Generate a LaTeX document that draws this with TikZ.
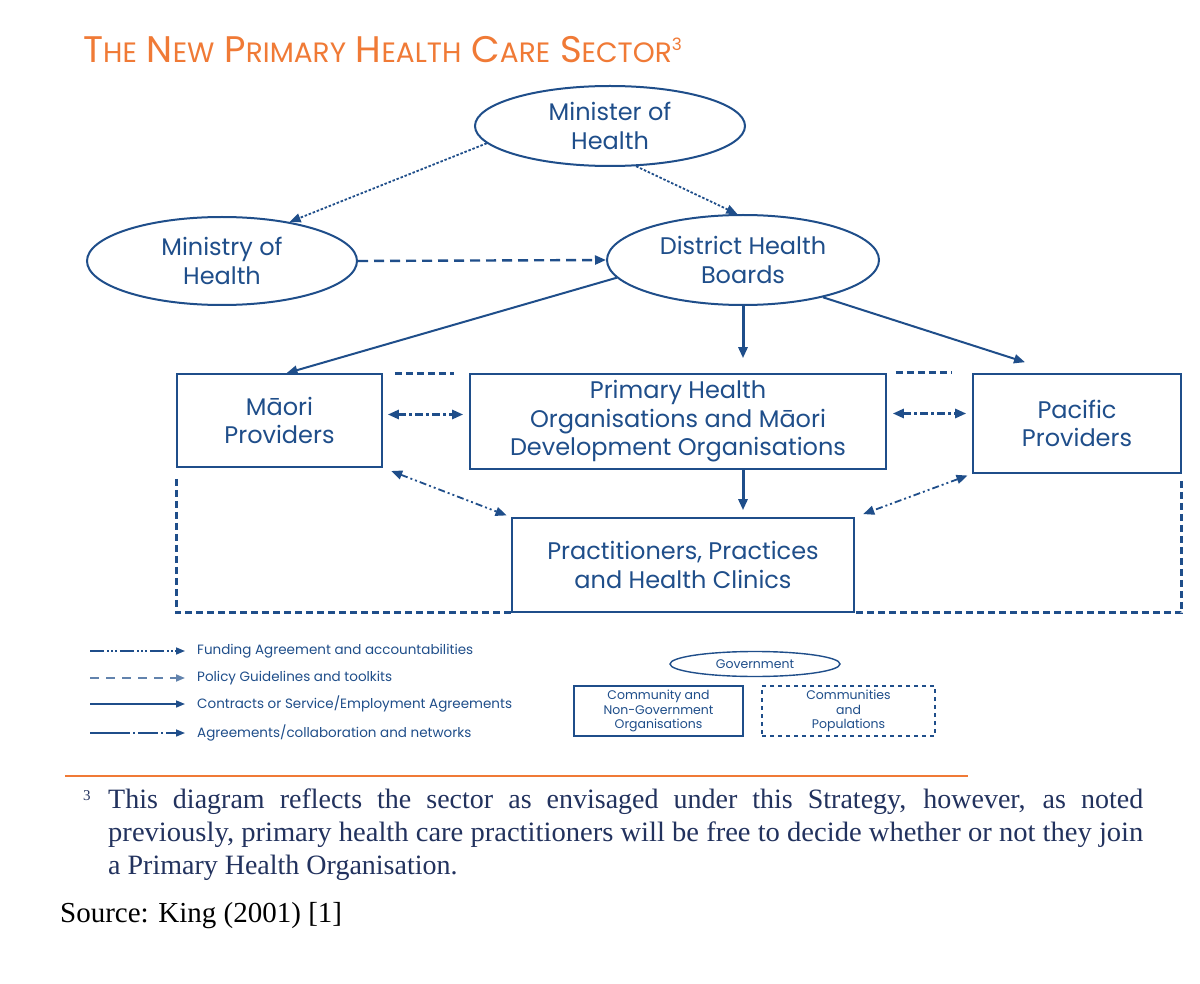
\documentclass[tikz,border=0pt]{standalone}
\usepackage{fontspec}
\setmainfont{Liberation Serif}
\newfontfamily\boxfont{Poppins}
\usetikzlibrary{shapes.geometric,arrows.meta,calc}
\definecolor{navy}{HTML}{1F4E8A}
\definecolor{inknavy}{HTML}{22325E}
\definecolor{orng}{HTML}{F07A36}
\newcommand\SCs[1]{{\fontsize{28}{28}\selectfont #1}}
\tikzset{
  every node/.style={text=navy},
  ell/.style={draw=navy, line width=2pt, ellipse, inner sep=0pt, align=center, font=\boxfont\fontsize{24}{29}\selectfont},
  bx/.style={draw=navy, line width=1.6pt, rectangle, inner sep=0pt, align=center, font=\boxfont\fontsize{24}{28.5}\selectfont},
  tip/.style={-{Triangle[length=11pt,width=9pt]}},
  btip/.style={{Triangle[length=11pt,width=9pt]}-{Triangle[length=11pt,width=9pt]}},
  funding/.style={draw=navy, line width=1.8pt, dash pattern=on 2.5pt off 1.8pt, tip},
  policy/.style={draw=navy, line width=2.4pt, dash pattern=on 10pt off 6pt, tip},
  contract/.style={draw=navy, line width=2pt, tip},
  thickc/.style={draw=navy, line width=3pt, tip},
  agree/.style={draw=navy, line width=1.8pt, dash pattern=on 7pt off 3pt on 2pt off 3pt on 2pt off 3pt, btip},
  agreeb/.style={draw=navy, line width=2.6pt, dash pattern=on 8pt off 3pt on 3pt off 3pt, btip},
  border/.style={draw=navy, line width=3pt, dash pattern=on 7pt off 4pt},
  legtxt/.style={anchor=west, inner sep=0pt, font=\boxfont\fontsize{13.5}{15}\selectfont},
  smallfont/.style={font=\boxfont\fontsize{12.5}{14.2}\selectfont},
  ltip/.style={-{Triangle[length=9pt,width=7pt]}},
}
\begin{document}
\begin{tikzpicture}[x=1pt,y=-1pt]
\useasboundingbox[fill=white] (0,0) rectangle (1200,984);
% title
\node[anchor=west, inner sep=0pt, text=orng, font=\boxfont\fontsize{37}{37}\selectfont] (title) at (83,50)
  {T\SCs{HE} N\SCs{EW} P\SCs{RIMARY} H\SCs{EALTH} C\SCs{ARE} S\SCs{ECTOR}\raisebox{0.6ex}{\fontsize{17}{17}\selectfont 3}};
% ellipses
\node[ell, minimum width=270pt, minimum height=80pt] (min) at (610,126) {Minister of\\Health};
\node[ell, minimum width=270pt, minimum height=88pt] (mtry) at (222,261) {Ministry of\\Health};
\node[ell, minimum width=272pt, minimum height=90pt] (dhb) at (743,260) {District Health\\Boards};
% boxes
\node[bx, minimum width=205pt, minimum height=93pt] (maori) at (279.5,420.5) {M\={a}ori\\Providers};
\node[bx, minimum width=416pt, minimum height=95pt] (pho) at (678,421.5) {Primary Health\\Organisations and M\={a}ori\\Development Organisations};
\node[bx, minimum width=208pt, minimum height=99pt] (pac) at (1077,423.5) {Pacific\\Providers};
\node[bx, minimum width=342pt, minimum height=94pt] (prac) at (683,565) {Practitioners, Practices\\and Health Clinics};
% connectors
\draw[funding] (min.188) -- (mtry.30);
\draw[funding] (min.-57) -- (dhb.97);
\draw[policy] (mtry.east) -- (dhb.west);
\draw[contract] (dhb.188) -- ([xshift=7pt]maori.north);
\draw[contract] (dhb.-25) -- ([xshift=-52pt,yshift=11pt]pac.north);
\draw[thickc, shorten >=15pt] (dhb.south) -- (dhb.south |- pho.north);
\draw[thickc, shorten >=7pt] (dhb.south |- pho.south) -- (dhb.south |- prac.north);
\draw[agreeb, shorten <=5pt, shorten >=6pt] ([yshift=6pt]maori.east) -- ([yshift=6pt]maori.east -| pho.west);
\draw[agreeb, shorten <=6pt, shorten >=6pt] ([yshift=8pt]pho.east) -- ([yshift=8pt]pho.east -| pac.west);
\draw[agree, shorten <=9pt, shorten >=5pt] (maori.south east) -- (prac.north west);
\draw[agree, shorten <=5pt, shorten >=9pt] (pac.south west) -- (prac.north east);
\draw[border] ([xshift=12pt]maori.north east) -- ([xshift=-15pt]pho.north west);
\draw[border] ([xshift=9pt,yshift=1pt]pho.north east) -- ([xshift=-20pt,yshift=1pt]pac.north west);
\draw[border] ([yshift=-11pt]maori.south west) |- (prac.south west);
\draw[border] ([yshift=-7pt]pac.south east) |- (prac.south east);
% legend
\coordinate (l1) at (90,651);
\coordinate (l2) at (90,678);
\coordinate (l3) at (90,704);
\coordinate (l4) at (90,733);
\node[legtxt] (t1) at (197,651) {Funding Agreement and accountabilities};
\node[legtxt] (t2) at (197,678) {Policy Guidelines and toolkits};
\node[legtxt] (t3) at (197,704) {Contracts or Service/Employment Agreements};
\node[legtxt] (t4) at (197,733) {Agreements/collaboration and networks};
\draw[navy, line width=1.6pt, dash pattern=on 14pt off 3pt on 2pt off 2pt on 2pt off 2pt on 2pt off 3pt, ltip, shorten >=12pt] (l1) -- (t1.west);
\draw[navy!70, line width=1.8pt, dash pattern=on 9pt off 7pt, ltip, shorten >=12pt] (l2) -- (t2.west);
\draw[navy, line width=1.6pt, ltip, shorten >=12pt] (l3) -- (t3.west);
\draw[navy, line width=1.6pt, dash pattern=on 40pt off 3pt on 2pt off 3pt on 20pt off 3pt on 2pt off 3pt, ltip, shorten >=12pt] (l4) -- (t4.west);
\node[ell, line width=1.4pt, minimum width=170pt, minimum height=25pt, smallfont] (gov) at (755,664) {Government};
\node[bx, line width=1.4pt, minimum width=169pt, minimum height=50pt, smallfont] (cngo) at (658.5,711) {Community and\\Non-Government\\Organisations};
\node[bx, line width=1.2pt, dash pattern=on 4pt off 4pt, minimum width=173pt, minimum height=50pt, smallfont] (comm) at (848.5,711) {Communities\\and\\Populations};
% footnote
\draw[orng, line width=1.2pt] (65,776) -- (968,776);
\node[anchor=base west, inner sep=0pt, text=inknavy, font=\fontsize{15}{15}\selectfont] (fnm) at (83,800) {3};
\node[anchor=base west, inner sep=0pt, text=inknavy, font=\fontsize{28}{28}\selectfont] (fn1) at (108,808) {\makebox[1035pt][s]{This diagram reflects the sector as envisaged under this Strategy, however, as noted}};
\node[anchor=base west, inner sep=0pt, text=inknavy, font=\fontsize{28}{28}\selectfont] (fn2) at (108,841) {\resizebox{1035pt}{\height}{previously, primary health care practitioners will be free to decide whether or not they join}};
\node[anchor=base west, inner sep=0pt, text=inknavy, font=\fontsize{28}{28}\selectfont] (fn3) at (108,874) {a Primary Health Organisation.};
\node[anchor=base west, inner sep=0pt, text=black, font=\fontsize{29}{29}\selectfont] (src) at (60,922) {Source: King (2001) [1]};
\end{tikzpicture}
\end{document}
